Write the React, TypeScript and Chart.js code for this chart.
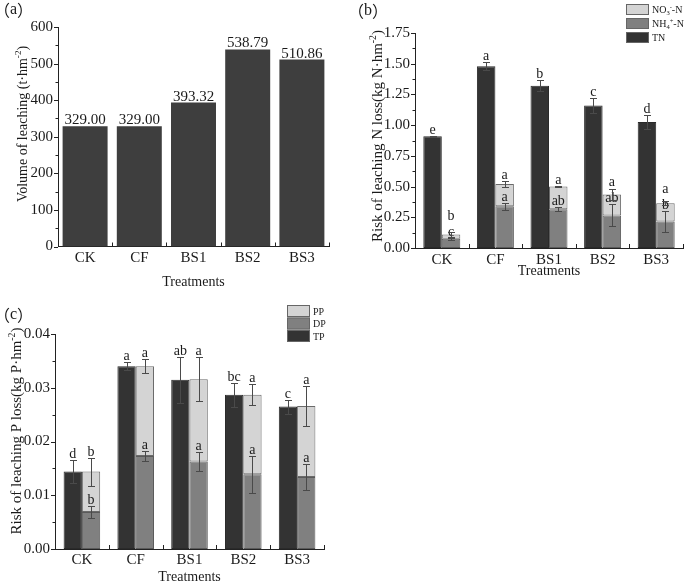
import React, { useEffect, useRef } from 'react';
import { Chart, registerables } from 'chart.js';
Chart.register(...registerables);

const FONT = '"Liberation Serif", "Times New Roman", serif';
const CJK = '"Noto Sans CJK SC", "Liberation Serif", serif';
const TEXT = '#1a1a1a';
const AXIS = '#222222';
const DARK = '#333333';
const MID = '#808080';
const LIGHT = '#d4d4d4';
const BAR_A = '#3e3e3e';

// ---------- data ----------
const categories = ['CK', 'CF', 'BS1', 'BS2', 'BS3'];
const xTitle = 'Treatments';

// (a) leaching volume
const volumeValues = [329.0, 329.0, 393.32, 538.79, 510.86];
const volumeTicks = [0, 100, 200, 300, 400, 500, 600];

// (b) N loss
const tnValues = [0.91, 1.48, 1.32, 1.16, 1.025];
const tnErrors = [0.005, 0.035, 0.045, 0.06, 0.06];
const tnLetters = ['e', 'a', 'b', 'c', 'd'];
const nh4Values = [0.075, 0.34, 0.315, 0.265, 0.215];
const nh4Errors = [0.01, 0.03, 0.015, 0.09, 0.088];
const nh4Letters = ['c', 'a', 'ab', 'ab', 'b'];
const no3Values = [0.035, 0.18, 0.185, 0.17, 0.15];
const no3Errors = [0.02, 0.025, 0.005, 0.045, 0.015];
const no3Letters = ['b', 'a', 'a', 'a', 'a'];
const nTicks = [0, 0.25, 0.5, 0.75, 1.0, 1.25, 1.5, 1.75];

// (c) P loss
const tpValues = [0.0144, 0.034, 0.0315, 0.0287, 0.0265];
const tpErrors = [0.0021, 0.0007, 0.0043, 0.0022, 0.0013];
const tpLetters = ['d', 'a', 'ab', 'bc', 'c'];
const dpValues = [0.0069, 0.0173, 0.0163, 0.0139, 0.0134];
const dpErrors = [0.0011, 0.001, 0.0018, 0.0034, 0.0024];
const dpLetters = ['b', 'a', 'a', 'a', 'a'];
const ppValues = [0.0075, 0.0167, 0.0153, 0.0148, 0.0132];
const ppErrors = [0.0026, 0.0013, 0.0041, 0.002, 0.0037];
const ppLetters = ['b', 'a', 'a', 'a', 'a'];
const pTicks = [0, 0.01, 0.02, 0.03, 0.04];

// ---------- rich text ----------
type Part = [string, number]; // 0 normal, 1 superscript, -1 subscript

function drawRich(ctx: CanvasRenderingContext2D, parts: Part[], x: number, y: number, size: number, align: 'left' | 'center') {
  const small = size * 0.65;
  const widths = parts.map(([t, k]) => {
    ctx.font = `${k ? small : size}px ${FONT}`;
    return ctx.measureText(t).width;
  });
  const total = widths.reduce((a, b) => a + b, 0);
  let cx = align === 'center' ? x - total / 2 : x;
  ctx.textAlign = 'left';
  ctx.textBaseline = 'alphabetic';
  parts.forEach(([t, k], i) => {
    ctx.font = `${k ? small : size}px ${FONT}`;
    const dy = k === 1 ? -size * 0.4 : k === -1 ? size * 0.22 : 0;
    ctx.fillText(t, cx, y + dy);
    cx += widths[i];
  });
}

interface DecorCfg {
  errors?: (number[] | null)[];
  letters?: (string[] | null)[];
  valueLabels?: boolean;
  yTitle: Part[];
  yTitleX: number;
  yTitleY: number;
  yTitleSize: number;
  legend?: { items: { color: string; parts: Part[] }[]; x: number; y: number; w: number; h: number; step: number };
  panel: { letter: string; x: number; y: number };
}

function makeDecor(d: DecorCfg) {
  return {
    id: 'decor',
    afterDraw(chart: any) {
      const ctx: CanvasRenderingContext2D = chart.ctx;
      const xs = chart.scales.x;
      const ys = chart.scales.y;
      const area = chart.chartArea;
      ctx.save();
      // axis ticks
      ctx.strokeStyle = AXIS;
      ctx.lineWidth = 1;
      ctx.beginPath();
      const tv: number[] = ys.ticks.map((t: any) => t.value);
      tv.forEach((v, k) => {
        const py = Math.round(ys.getPixelForValue(v)) + 0.5;
        ctx.moveTo(area.left, py);
        ctx.lineTo(area.left - 4, py);
        if (k < tv.length - 1) {
          const pm = Math.round(ys.getPixelForValue((v + tv[k + 1]) / 2)) + 0.5;
          ctx.moveTo(area.left, pm);
          ctx.lineTo(area.left - 2.5, pm);
        }
      });
      const n = chart.data.labels.length;
      for (let k = 1; k <= n; k++) {
        const px = Math.round(xs.getPixelForValue(k - 0.5)) + 0.5;
        ctx.moveTo(px, area.bottom);
        ctx.lineTo(px, area.bottom - 4);
      }
      ctx.stroke();

      // error bars, letters, value labels
      const ceil: Record<string, number> = {};
      chart.data.datasets.forEach((ds: any, di: number) => {
        const meta = chart.getDatasetMeta(di);
        const errs = d.errors ? d.errors[di] : null;
        const lets = d.letters ? d.letters[di] : null;
        meta.data.forEach((bar: any, i: number) => {
          const topVal = ys.getValueForPixel(bar.y);
          let topPx = bar.y;
          const bx = Math.round(bar.x) + 0.5;
          if (errs) {
            const e = errs[i];
            const y1 = Math.round(ys.getPixelForValue(topVal + e)) + 0.5;
            const y2 = Math.round(ys.getPixelForValue(topVal - e)) + 0.5;
            ctx.strokeStyle = '#4a4a4a';
            ctx.lineWidth = 1;
            ctx.beginPath();
            ctx.moveTo(bx, y1);
            ctx.lineTo(bx, y2);
            ctx.moveTo(bx - 3.5, y1);
            ctx.lineTo(bx + 3.5, y1);
            ctx.moveTo(bx - 3.5, y2);
            ctx.lineTo(bx + 3.5, y2);
            ctx.stroke();
            topPx = y1;
          }
          if (lets) {
            const key = (ds.stack || String(di)) + '-' + i;
            const base = Math.min(topPx, ceil[key] ?? Infinity) - 3;
            ctx.fillStyle = TEXT;
            ctx.font = `14px ${FONT}`;
            ctx.textAlign = 'center';
            ctx.textBaseline = 'alphabetic';
            ctx.fillText(lets[i], bar.x, base);
            ceil[key] = base - 13;
          }
          if (d.valueLabels) {
            ctx.fillStyle = TEXT;
            ctx.font = `15px ${FONT}`;
            ctx.textAlign = 'center';
            ctx.textBaseline = 'alphabetic';
            ctx.fillText(Number(ds.data[i]).toFixed(2), bar.x, bar.y - 2);
          }
        });
      });

      // y title
      ctx.fillStyle = TEXT;
      ctx.save();
      ctx.translate(d.yTitleX, d.yTitleY);
      ctx.rotate(-Math.PI / 2);
      drawRich(ctx, d.yTitle, 0, d.yTitleSize * 0.33, d.yTitleSize, 'center');
      ctx.restore();

      // legend
      if (d.legend) {
        const L = d.legend;
        L.items.forEach((it, k) => {
          const y0 = L.y + k * L.step;
          ctx.fillStyle = it.color;
          ctx.fillRect(L.x, y0, L.w, L.h);
          ctx.strokeStyle = '#666';
          ctx.lineWidth = 1;
          ctx.strokeRect(L.x + 0.5, y0 + 0.5, L.w - 1, L.h - 1);
          ctx.fillStyle = TEXT;
          drawRich(ctx, it.parts, L.x + L.w + 3, y0 + L.h / 2 + 3.5, 10, 'left');
        });
      }

      // panel label: full-width parentheses around a serif letter
      ctx.fillStyle = TEXT;
      ctx.textAlign = 'left';
      ctx.textBaseline = 'middle';
      let px = d.panel.x;
      ctx.font = `16px ${CJK}`;
      ctx.fillText('（', px, d.panel.y);
      px += ctx.measureText('（').width;
      ctx.font = `16px ${FONT}`;
      ctx.fillText(d.panel.letter, px, d.panel.y);
      px += ctx.measureText(d.panel.letter).width;
      ctx.font = `16px ${CJK}`;
      ctx.fillText('）', px, d.panel.y);
      ctx.restore();
    },
  };
}

interface Lay {
  top: number; right: number; yW: number; xH: number; xPad: number; xTitlePad: number; yPad: number;
  yMin: number; yMax: number; yTicks: number[]; yFmt: (v: number) => string; stacked: boolean;
}

function buildOptions(L: Lay) {
  return {
    responsive: false,
    animation: false,
    events: [],
    layout: { padding: { left: 0, top: L.top, right: L.right, bottom: 0 } },
    plugins: { legend: { display: false }, tooltip: { enabled: false } },
    scales: {
      x: {
        stacked: L.stacked,
        grid: { display: false, drawTicks: false },
        border: { display: true, color: AXIS, width: 1 },
        ticks: { font: { family: FONT, size: 15 }, color: TEXT, padding: L.xPad, maxRotation: 0, autoSkip: false },
        title: { display: true, text: xTitle, font: { family: FONT, size: 14 }, color: TEXT, padding: { top: 0, bottom: L.xTitlePad } },
        afterFit: (s: any) => { s.height = L.xH; },
      },
      y: {
        stacked: L.stacked,
        min: L.yMin,
        max: L.yMax,
        grid: { display: false, drawTicks: false },
        border: { display: true, color: AXIS, width: 1 },
        ticks: { font: { family: FONT, size: 15 }, color: TEXT, padding: L.yPad, callback: (v: any) => L.yFmt(Number(v)) },
        afterBuildTicks: (s: any) => { s.ticks = L.yTicks.map((v) => ({ value: v })); },
        afterFit: (s: any) => { s.width = L.yW; },
      },
    },
  };
}

function configA(): any {
  return {
    type: 'bar',
    data: {
      labels: categories,
      datasets: [{ data: volumeValues, backgroundColor: BAR_A, borderWidth: 0, categoryPercentage: 0.83, barPercentage: 1 }],
    },
    options: buildOptions({
      top: 27, right: 11, yW: 58, xH: 48.5, xPad: 3, xTitlePad: 4.6, yPad: 5,
      yMin: 0, yMax: 600, yTicks: volumeTicks, yFmt: (v) => String(v), stacked: false,
    }),
    plugins: [makeDecor({
      valueLabels: true,
      yTitle: [['Volume of leaching (t·hm', 0], ['-2', 1], [')', 0]],
      yTitleX: 22, yTitleY: 124, yTitleSize: 14,
      panel: { letter: 'a', x: -6, y: 10 },
    })],
  };
}

function configB(): any {
  const common = { categoryPercentage: 0.69, barPercentage: 1, borderSkipped: false };
  return {
    type: 'bar',
    data: {
      labels: categories,
      datasets: [
        { ...common, data: tnValues, stack: 'tn', backgroundColor: DARK, borderColor: '#2a2a2a', borderWidth: 1 },
        { ...common, data: nh4Values, stack: 'sum', backgroundColor: MID, borderColor: '#5a5a5a', borderWidth: 1 },
        { ...common, data: no3Values, stack: 'sum', backgroundColor: LIGHT, borderColor: '#6a6a6a', borderWidth: 1 },
      ],
    },
    options: buildOptions({
      top: 33, right: 2, yW: 75, xH: 34, xPad: 3, xTitlePad: 2, yPad: 5,
      yMin: 0, yMax: 1.75, yTicks: nTicks, yFmt: (v) => v.toFixed(2), stacked: true,
    }),
    plugins: [makeDecor({
      errors: [tnErrors, nh4Errors, no3Errors],
      letters: [tnLetters, nh4Letters, no3Letters],
      yTitle: [['Risk of leaching N loss(kg N·hm', 0], ['-2', 1], [')', 0]],
      yTitleX: 37, yTitleY: 136, yTitleSize: 15,
      legend: {
        x: 286, y: 4, w: 23, h: 11, step: 14,
        items: [
          { color: LIGHT, parts: [['NO', 0], ['3', -1], ['-', 1], ['-N', 0]] },
          { color: MID, parts: [['NH', 0], ['4', -1], ['+', 1], ['-N', 0]] },
          { color: DARK, parts: [['TN', 0]] },
        ],
      },
      panel: { letter: 'b', x: 8, y: 11 },
    })],
  };
}

function configC(): any {
  const common = { categoryPercentage: 0.68, barPercentage: 1, borderSkipped: false };
  return {
    type: 'bar',
    data: {
      labels: categories,
      datasets: [
        { ...common, data: tpValues, stack: 'tp', backgroundColor: DARK, borderColor: '#2a2a2a', borderWidth: 1 },
        { ...common, data: dpValues, stack: 'sum', backgroundColor: MID, borderColor: '#5a5a5a', borderWidth: 1 },
        { ...common, data: ppValues, stack: 'sum', backgroundColor: LIGHT, borderColor: '#6a6a6a', borderWidth: 1 },
      ],
    },
    options: buildOptions({
      top: 34, right: 16, yW: 55, xH: 38, xPad: 2, xTitlePad: 1.6, yPad: 5,
      yMin: 0, yMax: 0.04, yTicks: pTicks, yFmt: (v) => v.toFixed(2), stacked: true,
    }),
    plugins: [makeDecor({
      errors: [tpErrors, dpErrors, ppErrors],
      letters: [tpLetters, dpLetters, ppLetters],
      yTitle: [['Risk of leaching P loss(kg P·hm', 0], ['-2', 1], [')', 0]],
      yTitleX: 16, yTitleY: 131, yTitleSize: 15,
      legend: {
        x: 287, y: 5, w: 23, h: 12, step: 12.5,
        items: [
          { color: LIGHT, parts: [['PP', 0]] },
          { color: MID, parts: [['DP', 0]] },
          { color: DARK, parts: [['TP', 0]] },
        ],
      },
      panel: { letter: 'c', x: -6, y: 15 },
    })],
  };
}

function Panel({ make, left, top, width, height }: { make: () => any; left: number; top: number; width: number; height: number }) {
  const ref = useRef<HTMLCanvasElement>(null);
  useEffect(() => {
    const chart = new Chart(ref.current as HTMLCanvasElement, make());
    return () => chart.destroy();
  }, []);
  return (
    <canvas ref={ref} width={width} height={height}
      style={{ position: 'absolute', left, top, width, height, display: 'block' }} />
  );
}

export default function App() {
  return (
    <div style={{ position: 'fixed', left: 0, top: 0, width: 685, height: 583, overflow: 'hidden', background: '#ffffff' }}>
      <Panel make={configA} left={0} top={0} width={340} height={295} />
      <Panel make={configB} left={340} top={0} width={345} height={282} />
      <Panel make={configC} left={0} top={300} width={340} height={287} />
    </div>
  );
}
